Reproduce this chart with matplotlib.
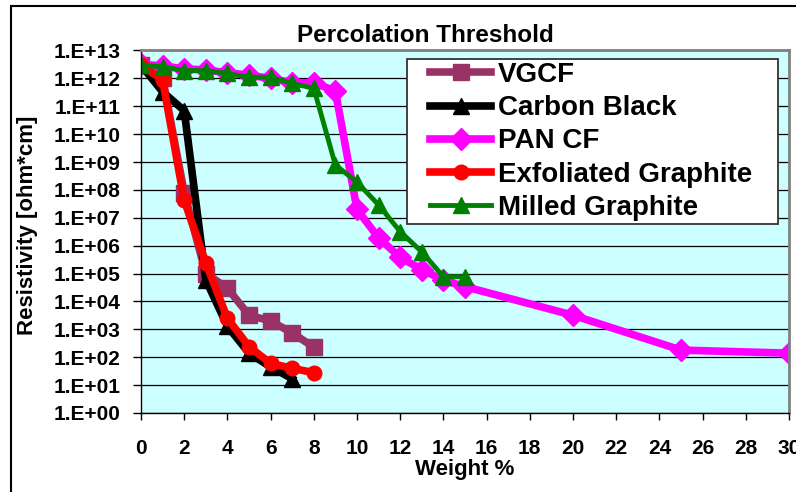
import matplotlib
matplotlib.use('Agg')
import matplotlib.pyplot as plt
from matplotlib.patches import Rectangle
from matplotlib.ticker import FixedLocator, NullLocator

plt.rcParams['font.family'] = 'Liberation Sans'
plt.rcParams['font.weight'] = 'bold'
plt.rcParams['axes.labelweight'] = 'bold'

# resistivity (ohm*cm) vs filler loading (weight %)
wt_vgcf = [0, 1, 2, 3, 4, 5, 6, 7, 8]
res_vgcf = [3e12, 1e12, 8e7, 1e5, 3e4, 3.2e3, 2e3, 7.4e2, 2.3e2]

wt_cb = [0, 1, 2, 3, 4, 5, 6, 7]
res_cb = [3e12, 3.3e11, 7e10, 6e4, 1.3e3, 1.4e2, 4.5e1, 1.7e1]

wt_pan = [0, 1, 2, 3, 4, 5, 6, 7, 8, 9, 10, 11, 12, 13, 14, 15, 20, 25, 30]
res_pan = [3.2e12, 2.8e12, 2.2e12, 2e12, 1.6e12, 1.3e12, 1e12, 7e11, 7e11,
           3.5e11, 2e7, 1.9e6, 3.8e5, 1.4e5, 5.8e4, 3.4e4, 3.2e3, 1.8e2, 1.4e2]

wt_exf = [0, 1, 2, 3, 4, 5, 6, 7, 8]
res_exf = [3e12, 8.7e11, 4.3e7, 2.4e5, 2.5e3, 2.4e2, 6e1, 4e1, 2.8e1]

wt_milled = [0, 1, 2, 3, 4, 5, 6, 7, 8, 9, 10, 11, 12, 13, 14, 15]
res_milled = [3e12, 2.6e12, 1.9e12, 1.9e12, 1.5e12, 1.1e12, 1.1e12, 6.6e11,
              4.4e11, 7.8e8, 1.9e8, 2.9e7, 3.2e6, 6e5, 7.7e4, 7.7e4]

decades = list(range(14))
ytick_labels = ['1.E+%02d' % k for k in decades]
xticks = list(range(0, 31, 2))

W, H = 796, 492
fig = plt.figure(figsize=(W / 100, H / 100), dpi=100)
ax = fig.add_axes([141 / W, (H - 413) / H, 648 / W, 362.5 / H])
ax.set_facecolor('#CCFFFF')

ax.plot(wt_vgcf, res_vgcf, color='#993366', lw=5.5, marker='s', ms=11,
        mec='#993366', label='VGCF')
ax.plot(wt_cb, res_cb, color='black', lw=5.5, marker='^', ms=12,
        mec='black', label='Carbon Black')
ax.plot(wt_pan, res_pan, color='#FF00FF', lw=5.5, marker='D', ms=11,
        mec='#FF00FF', label='PAN CF')
ax.plot(wt_exf, res_exf, color='#FF0000', lw=5.5, marker='o', ms=10.5,
        mec='#FF0000', label='Exfoliated Graphite')
ax.plot(wt_milled, res_milled, color='#008000', lw=3.5, marker='^', ms=12,
        mec='#008000', label='Milled Graphite')

ax.set_yscale('log')
ax.set_ylim(1, 1e13)
ax.set_xlim(0, 30)
ax.yaxis.set_major_locator(FixedLocator([10.0 ** k for k in decades]))
ax.yaxis.set_minor_locator(NullLocator())
ax.set_yticklabels(ytick_labels)
ax.set_xticks(xticks)
ax.set_xticklabels([str(v) for v in xticks])
ax.grid(axis='y', color='black', lw=0.9)
ax.set_axisbelow(True)

ax.tick_params(axis='y', direction='out', length=6, width=1, pad=9,
               labelsize=15)
ax.tick_params(axis='x', direction='out', length=5, width=1, pad=14,
               labelsize=15)

for side in ['top', 'right']:
    ax.spines[side].set_color('#808080')
    ax.spines[side].set_linewidth(2)
for side in ['left', 'bottom']:
    ax.spines[side].set_color('black')
    ax.spines[side].set_linewidth(1)

ax.set_ylabel('Resistivity [ohm*cm]', fontsize=16, fontweight='bold')
ax.yaxis.set_label_coords((38 - 141) / 648, (413 - 225) / 362.5)
ax.set_xlabel('Weight %', fontsize=16, fontweight='bold')
ax.xaxis.set_label_coords(0.5, (413 - 459) / 362.5)

fig.text(425 / W, 1 - 41.7 / H, 'Percolation Threshold', ha='center',
         va='baseline', fontsize=17.5, fontweight='bold')

# legend box
frame = Rectangle((407 / W, 1 - 224 / H), (778 - 407) / W, (224 - 59) / H,
                  transform=fig.transFigure, facecolor='white',
                  edgecolor='#333333', lw=1.3, zorder=4, clip_on=False)
ax.add_patch(frame)
leg = ax.legend(loc='upper left', bbox_to_anchor=(430 / W, 1 - 62 / H),
                bbox_transform=fig.transFigure, frameon=False, fontsize=20,
                handlelength=2.2, handletextpad=0.25, labelspacing=0.26,
                borderpad=0, borderaxespad=0)
leg.set_zorder(5)

# outer chart border
fig.add_artist(Rectangle((11 / W, -0.05), 1.1, 1 - 6 / H + 0.05,
                         transform=fig.transFigure, fill=False,
                         edgecolor='black', lw=1.5))

fig.savefig('out.png', dpi=100)
